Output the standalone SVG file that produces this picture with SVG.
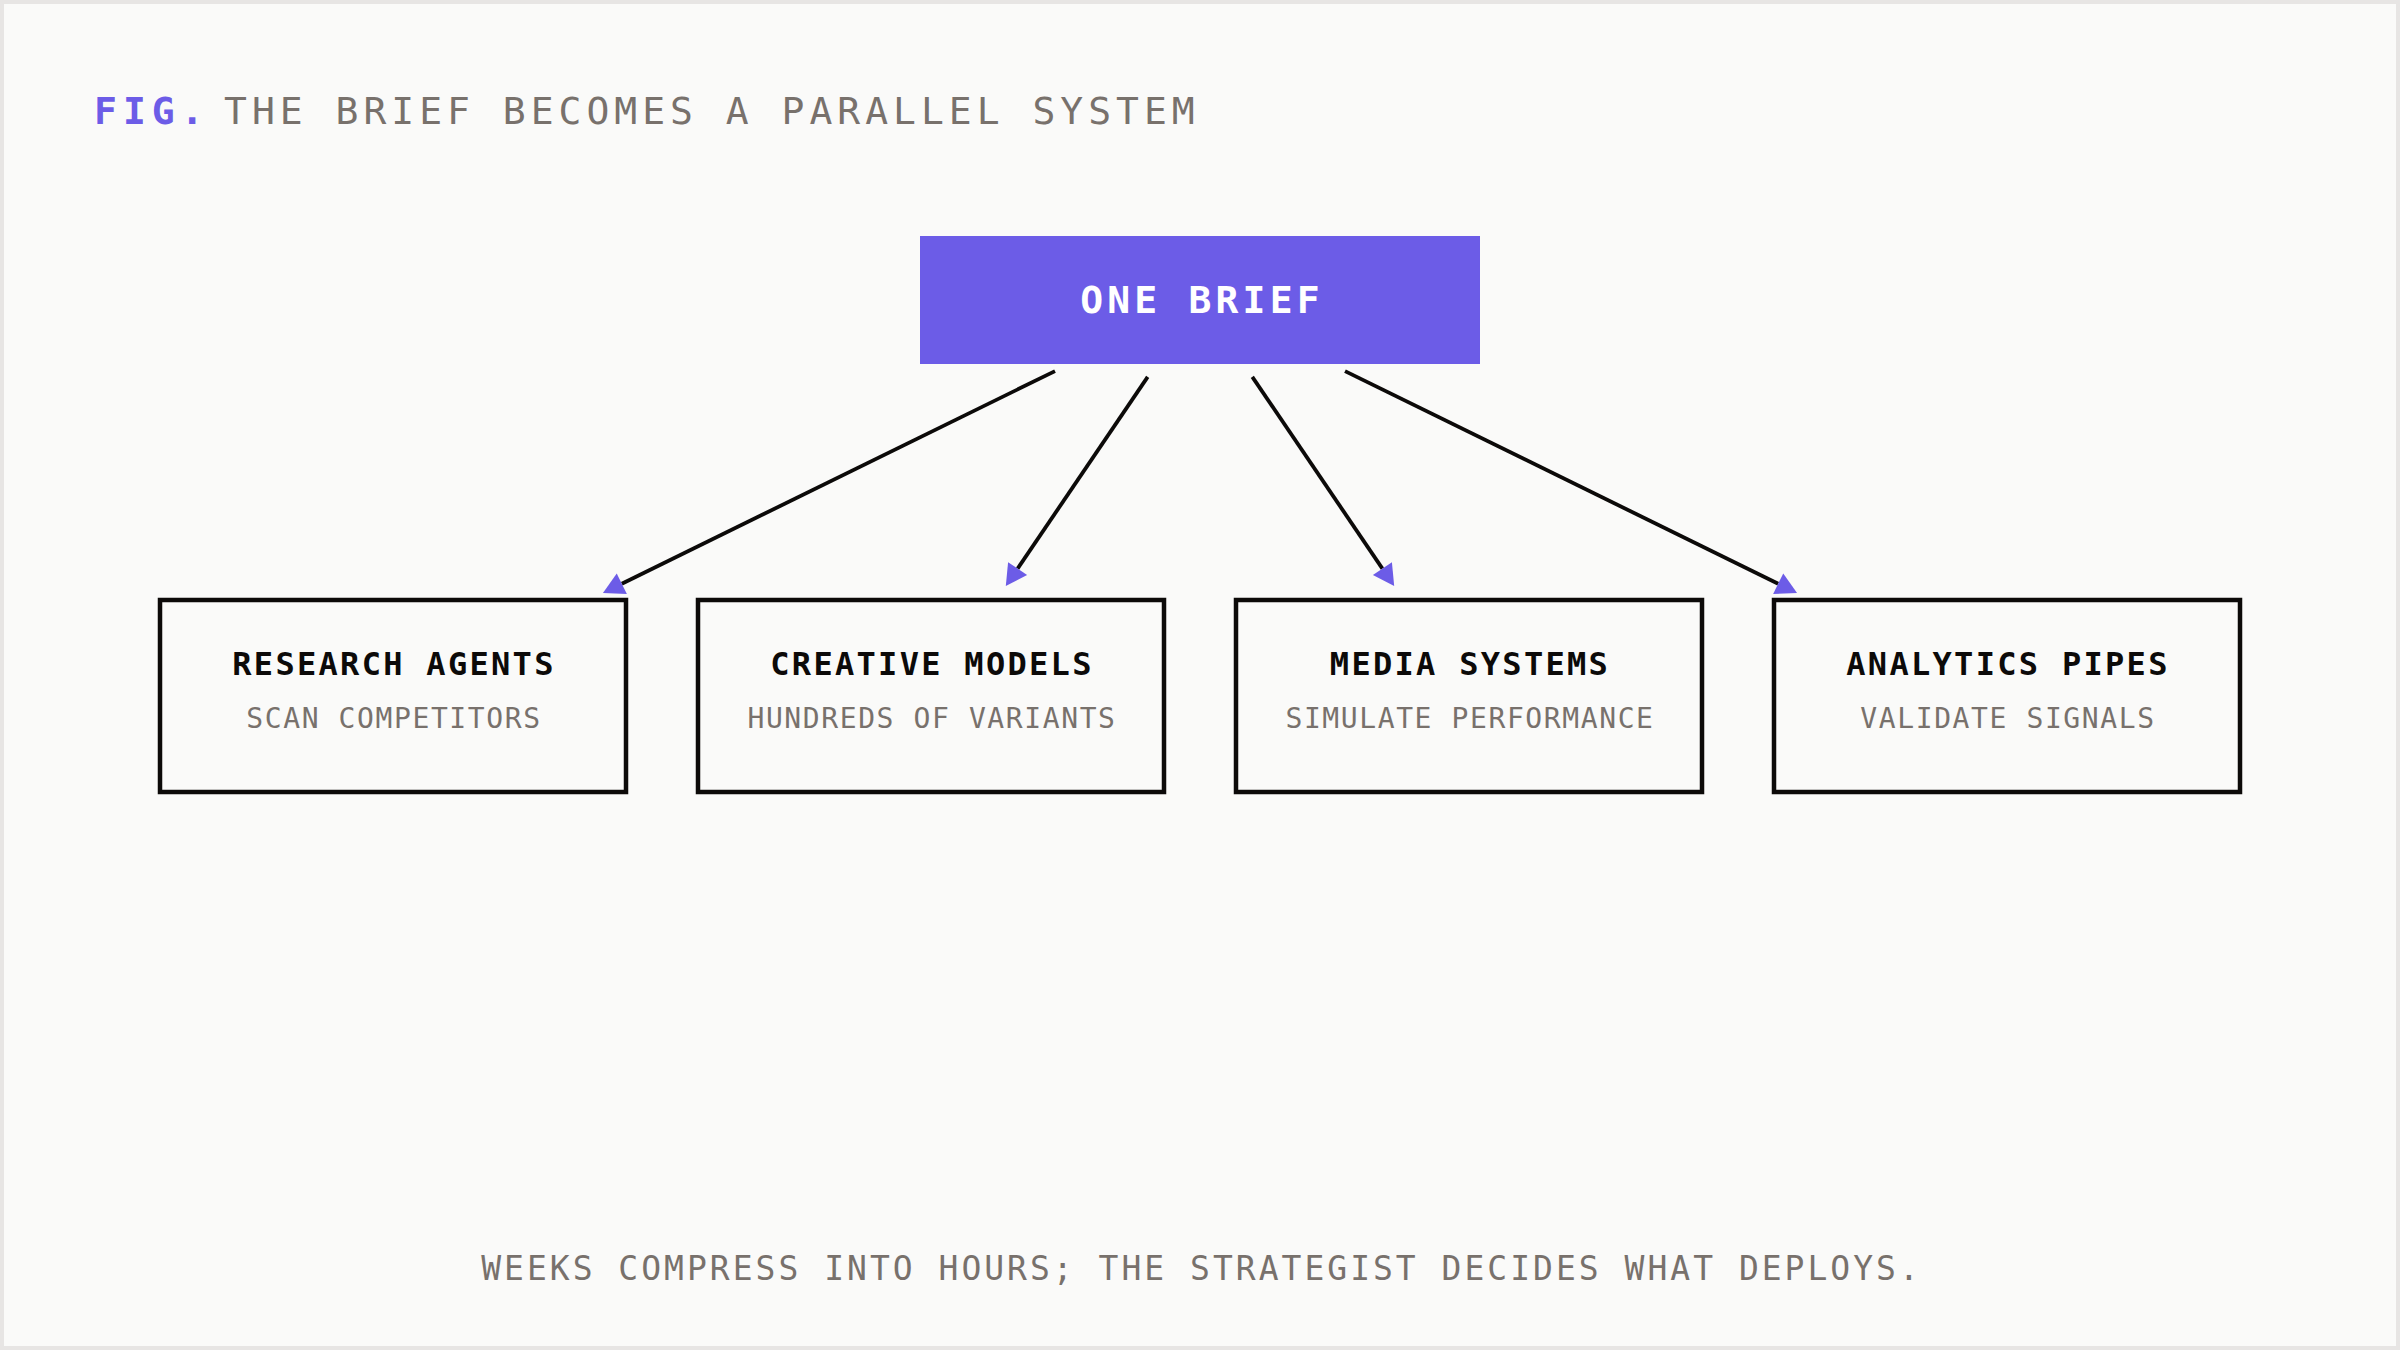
<svg xmlns="http://www.w3.org/2000/svg" width="2400" height="1350" viewBox="0 0 2400 1350">
  <defs>
    <style>
      .mono { font-family: "DejaVu Sans Mono", "Liberation Mono", monospace; }
      .fig { fill: #6C5CE7; font-size: 38px; font-weight: 700; letter-spacing: 6px; }
      .head { fill: #78716C; font-size: 38px; letter-spacing: 5px; }
      .brief { fill: #FFFFFF; font-size: 38px; font-weight: 700; letter-spacing: 4.2px; }
      .box { fill: none; stroke: #0C0A09; stroke-width: 4.5; }
      .ttl { fill: #0C0A09; font-size: 32px; font-weight: 700; letter-spacing: 2.3px; }
      .sub { fill: #78716C; font-size: 28px; letter-spacing: 1.6px; }
      .foot { fill: #78716C; font-size: 33px; letter-spacing: 3px; }
      .edge { stroke: #0C0A09; stroke-width: 3.8; fill: none; marker-end: url(#arrow); }
    </style>
    <marker id="arrow" markerUnits="userSpaceOnUse" viewBox="0 -12 22 24" refX="0" refY="0" markerWidth="22" markerHeight="24" orient="auto" overflow="visible">
      <path d="M0,-11.5 L21,0 L0,11.5 Z" fill="#6C5CE7"/>
    </marker>
  </defs>

  <rect x="0" y="0" width="2400" height="1350" fill="#E7E5E4"/>
  <rect x="4" y="4" width="2392" height="1342" fill="#FAFAF9"/>

  <g id="header">
    <text class="mono fig" x="94" y="124">FIG.</text>
    <text class="mono head" x="224" y="124">THE BRIEF BECOMES A PARALLEL SYSTEM</text>
  </g>

  <g id="connectors">
    <line class="edge" x1="1055" y1="371.1" x2="621.8" y2="583.7"/>
    <line class="edge" x1="1147.7" y1="376.9" x2="1017.6" y2="568.6"/>
    <line class="edge" x1="1252.3" y1="376.9" x2="1382.4" y2="568.6"/>
    <line class="edge" x1="1345" y1="371.1" x2="1778.2" y2="583.7"/>
  </g>

  <g id="node-brief">
    <rect x="920" y="236" width="560" height="128" fill="#6C5CE7"/>
    <text class="mono brief" x="1202" y="313" text-anchor="middle">ONE BRIEF</text>
  </g>

  <g id="node-research">
    <rect class="box" x="160" y="600" width="466" height="192"/>
    <text class="mono ttl" x="394" y="675" text-anchor="middle">RESEARCH AGENTS</text>
    <text class="mono sub" x="394" y="728" text-anchor="middle">SCAN COMPETITORS</text>
  </g>

  <g id="node-creative">
    <rect class="box" x="698" y="600" width="466" height="192"/>
    <text class="mono ttl" x="932" y="675" text-anchor="middle">CREATIVE MODELS</text>
    <text class="mono sub" x="932" y="728" text-anchor="middle">HUNDREDS OF VARIANTS</text>
  </g>

  <g id="node-media">
    <rect class="box" x="1236" y="600" width="466" height="192"/>
    <text class="mono ttl" x="1470" y="675" text-anchor="middle">MEDIA SYSTEMS</text>
    <text class="mono sub" x="1470" y="728" text-anchor="middle">SIMULATE PERFORMANCE</text>
  </g>

  <g id="node-analytics">
    <rect class="box" x="1774" y="600" width="466" height="192"/>
    <text class="mono ttl" x="2008" y="675" text-anchor="middle">ANALYTICS PIPES</text>
    <text class="mono sub" x="2008" y="728" text-anchor="middle">VALIDATE SIGNALS</text>
  </g>

  <g id="footer">
    <text class="mono foot" x="1201.5" y="1280" text-anchor="middle">WEEKS COMPRESS INTO HOURS; THE STRATEGIST DECIDES WHAT DEPLOYS.</text>
  </g>
</svg>
